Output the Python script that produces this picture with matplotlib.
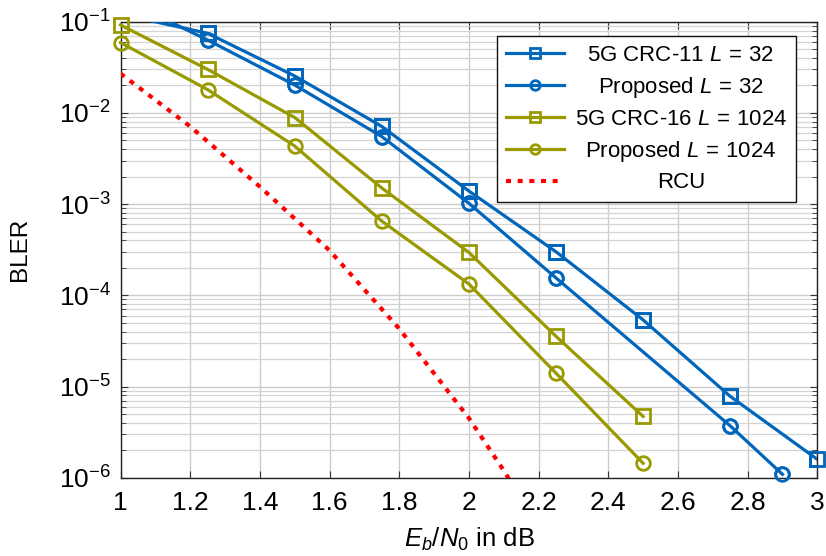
import matplotlib
matplotlib.use("Agg")
import matplotlib.pyplot as plt
from matplotlib.ticker import LogLocator, NullFormatter

plt.rcParams['font.family'] = ['Liberation Sans', 'DejaVu Sans']
plt.rcParams['mathtext.fontset'] = 'custom'
plt.rcParams['mathtext.rm'] = 'Liberation Sans'
plt.rcParams['mathtext.it'] = 'Liberation Sans:italic'
plt.rcParams['mathtext.bf'] = 'Liberation Sans:bold'

# ---- data ----
x_5g32 = [1.0, 1.25, 1.5, 1.75, 2.0, 2.25, 2.5, 2.75, 3.0]
y_5g32 = [0.121, 0.0746, 0.0254, 0.0071, 0.00139, 3.0e-4, 5.37e-5, 7.8e-6, 1.59e-6]

x_pr32 = [1.0, 1.25, 1.5, 1.75, 2.0, 2.25, 2.75, 2.9]
y_pr32 = [0.183, 0.063, 0.0202, 0.0055, 0.00102, 1.55e-4, 3.7e-6, 1.09e-6]

x_5g1024 = [1.0, 1.25, 1.5, 1.75, 2.0, 2.25, 2.5]
y_5g1024 = [0.092, 0.030, 0.0089, 0.0015, 2.95e-4, 3.55e-5, 4.7e-6]

x_pr1024 = [1.0, 1.25, 1.5, 1.75, 2.0, 2.25, 2.5]
y_pr1024 = [0.059, 0.018, 0.00433, 6.5e-4, 1.33e-4, 1.4e-5, 1.44e-6]

x_rcu = [1.0, 1.2, 1.4, 1.6, 1.8, 2.0, 2.1, 2.12]
y_rcu = [2.7e-2, 7.1e-3, 1.55e-3, 3.1e-4, 4.3e-5, 4.5e-6, 1.2e-6, 9.0e-7]

labels = [r"5G CRC-11 $L\,=\,32$", r"Proposed $L\,=\,32$",
          r"5G CRC-16 $L\,=\,1024$", r"Proposed $L\,=\,1024$", "RCU"]
xticks = [1, 1.2, 1.4, 1.6, 1.8, 2, 2.2, 2.4, 2.6, 2.8, 3]
xticklabels = ["1", "1.2", "1.4", "1.6", "1.8", "2", "2.2", "2.4", "2.6", "2.8", "3"]

blue = '#0066bb'
gold = '#999900'
red = '#ff0000'

fig = plt.figure(figsize=(8.26, 5.56), dpi=100)
ax = fig.add_axes([0.1459, 0.1408, 0.9895 - 0.1459, 0.961 - 0.1408])

lw = 2.3
ms = 9.8
mew = 2.0

# blue series: line clipped, markers (inside range) unclipped
ax.plot(x_5g32, y_5g32, color=blue, lw=lw, marker='s', ms=ms, mfc='none', mew=mew,
        markevery=slice(1, None), label=labels[0], zorder=3)
ax.plot(x_5g32[1:], y_5g32[1:], color=blue, lw=0, marker='s', ms=ms, mfc='none', mew=mew,
        clip_on=False, zorder=4)
ax.plot(x_pr32, y_pr32, color=blue, lw=lw, marker='o', ms=ms, mfc='none', mew=mew,
        markevery=slice(1, None), label=labels[1], zorder=3)
ax.plot(x_pr32[1:], y_pr32[1:], color=blue, lw=0, marker='o', ms=ms, mfc='none', mew=mew,
        clip_on=False, zorder=4)

ax.plot(x_5g1024, y_5g1024, color=gold, lw=lw, marker='s', ms=ms, mfc='none', mew=mew,
        label=labels[2], clip_on=False, zorder=3)
ax.plot(x_pr1024, y_pr1024, color=gold, lw=lw, marker='o', ms=ms, mfc='none', mew=mew,
        label=labels[3], clip_on=False, zorder=3)

ax.plot(x_rcu, y_rcu, color=red, lw=3.0, linestyle=(0, (1.2, 1.6)),
        dash_capstyle='butt', label=labels[4], zorder=3)

ax.set_yscale('log')
ax.set_xlim(1, 3)
ax.set_ylim(1e-6, 1e-1)
ax.set_xticks(xticks)
ax.set_xticklabels(xticklabels)
ax.yaxis.set_major_locator(LogLocator(base=10, numticks=20))
ax.yaxis.set_minor_locator(LogLocator(base=10, subs=range(2, 10), numticks=50))
ax.yaxis.set_minor_formatter(NullFormatter())

ax.grid(True, which='major', color='#cccccc', lw=1.0, zorder=0)
ax.grid(True, which='minor', axis='y', color='#d4d4d4', lw=0.9, zorder=0)
ax.set_axisbelow(True)

ax.tick_params(which='both', direction='in', top=True, right=True, labelsize=19,
               color='#333333')
ax.tick_params(which='major', length=5, width=0.8)
ax.tick_params(which='minor', length=3.5, width=0.6)
ax.tick_params(axis='x', which='major', pad=9.5)
ax.tick_params(axis='y', which='major', pad=7)
for s in ax.spines.values():
    s.set_color('#222222')
    s.set_linewidth(1.0)

ax.set_xlabel(r"$E_b/N_0$ in dB", fontsize=18.5, labelpad=8)
ax.set_ylabel("BLER", fontsize=17.5, labelpad=20)

leg = ax.legend(loc='upper right', bbox_to_anchor=(0.9694, 0.9686), borderaxespad=0,
                fontsize=16, frameon=True, fancybox=False, framealpha=1,
                edgecolor='#111111', handlelength=2.6, labelspacing=0.4,
                borderpad=0.4, handletextpad=0.5, markerscale=0.7)
leg.get_frame().set_linewidth(1.0)

# centre the legend texts within their column
fig.canvas.draw()
renderer = fig.canvas.get_renderer()
texts = leg.get_texts()
widths = [t.get_window_extent(renderer).width for t in texts]
wmax = max(widths)
for t, w in zip(texts, widths):
    t.set_position(((wmax - w) / 2, 0))

fig.savefig("out.png", dpi=100)
